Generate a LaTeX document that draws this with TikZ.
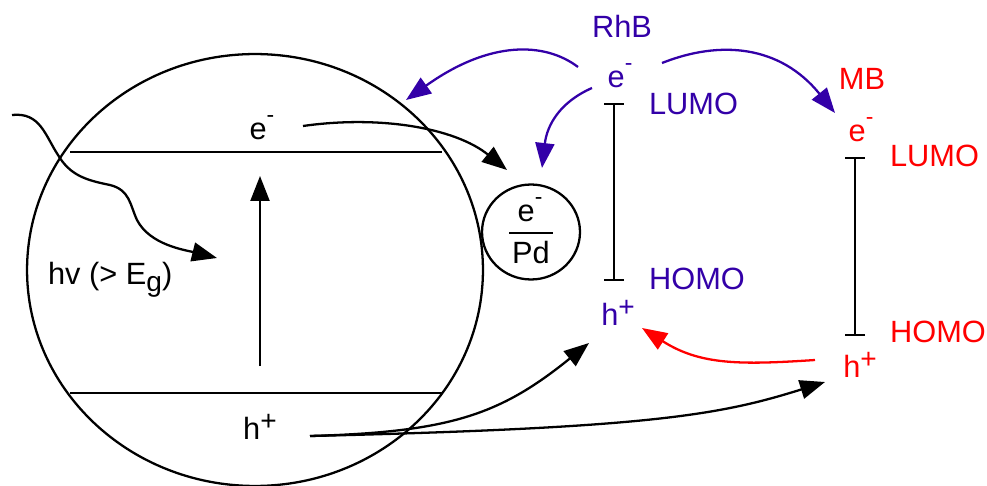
\documentclass[tikz,border=0pt]{standalone}
\usepackage{fontspec}
\setmainfont{Liberation Sans}
\usepackage{xcolor}
\usetikzlibrary{arrows.meta, shapes.geometric}
\definecolor{RhBBlue}{HTML}{3300A8}
\definecolor{MBRed}{HTML}{FF0000}
\newcommand{\elec}{e\raisebox{10pt}{\fontsize{13}{13}\selectfont -}}
\newcommand{\hole}{h\raisebox{5pt}{\fontsize{16}{16}\selectfont +}}

\begin{document}
\begin{tikzpicture}[x=0.02cm, y=-0.02cm, >={Triangle[length=5mm, width=3.8mm]}, line width=1.3pt]
    \tikzstyle{lbl} = [inner sep=0pt, font=\fontsize{17.5}{21}\selectfont]
    \tikzstyle{rhb} = [lbl, text=RhBBlue]
    \tikzstyle{mb} = [lbl, text=MBRed]
    \tikzstyle{gap} = [draw, {Bar[width=4mm]}-{Bar[width=4mm]}]
    \tikzstyle{line} = [draw, ->]

    \useasboundingbox (0,0) rectangle (987,486);

    % particle with its bands, and the Pd dot
    \node [draw, ellipse, inner sep=0pt, minimum width=9.12cm, minimum height=8.64cm] (particle) at (255,270) {};
    \node [draw, ellipse, inner sep=0pt, minimum width=1.96cm, minimum height=1.9cm] (pd) at (531,232) {};
    \coordinate (cbl) at (70,152);
    \coordinate (cbr) at (442,152);
    \coordinate (vbl) at (70,393);
    \coordinate (vbr) at (442,393);
    \draw (cbl) -- (cbr);
    \draw (vbl) -- (vbr);
    \coordinate (pdl) at (509,233);
    \coordinate (pdr) at (553,233);
    \draw (pdl) -- (pdr);

    \node [lbl, anchor=base] (ecb) at (262,140) {\elec};
    \node [lbl, anchor=base] (hvb) at (260,439) {\hole};
    \node [lbl, anchor=base west] (hv) at (47,284) {hv (> E\raisebox{-4pt}{\fontsize{16}{16}\selectfont g})};
    \node [lbl, anchor=base] (epd) at (530,222) {\elec};
    \node [lbl, anchor=base] (pdtxt) at (531,263) {Pd};

    % dyes
    \node [rhb, anchor=base] (rhbname) at (622,38) {RhB};
    \node [rhb, anchor=base] (erh) at (620,88) {\elec};
    \node [rhb, anchor=base west] (lumorh) at (648,115) {LUMO};
    \node [rhb, anchor=base west] (homorh) at (648,290) {HOMO};
    \node [rhb, anchor=base] (hrh) at (618,325) {\hole};
    \coordinate (rhtop) at (614,103);
    \coordinate (rhbot) at (614,281);
    \path [gap] (rhtop) -- (rhbot);

    \node [mb, anchor=base] (mbname) at (862,90) {MB};
    \node [mb, anchor=base] (emb) at (861,142) {\elec};
    \node [mb, anchor=base west] (lumomb) at (889,167) {LUMO};
    \node [mb, anchor=base west] (homomb) at (889,342) {HOMO};
    \node [mb, anchor=base] (hmb) at (860,377) {\hole};
    \coordinate (mbtop) at (855,157);
    \coordinate (mbbot) at (855,336);
    \path [gap] (mbtop) -- (mbbot);

    % light and excitation
    \coordinate (light) at (12,115);
    \coordinate (lightend) at (217,258);
    \path [line] (light) .. controls (40,112) and (45,135) .. (58,155)
        .. controls (70,175) and (85,180) .. (110,185)
        .. controls (130,190) and (130,205) .. (137,220)
        .. controls (150,245) and (185,250) .. (lightend);
    \coordinate (exc0) at (260,366);
    \coordinate (exc1) at (260,176);
    \path [line] (exc0) -- (exc1);

    % electron transfer
    \coordinate (ecbout) at (303,126);
    \coordinate (pdin) at (507,170);
    \path [line] (ecbout) .. controls (380,115) and (455,128) .. (pdin);
    \coordinate (erh1) at (578,67);
    \coordinate (erh2) at (592,88);
    \coordinate (erh3) at (662,63);
    \coordinate (partin) at (406,100);
    \coordinate (pdin2) at (542,168);
    \coordinate (mbin) at (835,113);
    \path [line, RhBBlue] (erh1) .. controls (545,42) and (490,40) .. (partin);
    \path [line, RhBBlue] (erh2) .. controls (560,102) and (547,125) .. (pdin2);
    \path [line, RhBBlue] (erh3) .. controls (720,40) and (780,45) .. (mbin);

    % hole transfer
    \coordinate (hvbout) at (310,436);
    \coordinate (rhin) at (589,343);
    \coordinate (mbhin) at (825,382);
    \path [line] (hvbout) .. controls (450,432) and (500,415) .. (rhin);
    \path [line] (hvbout) .. controls (650,428) and (720,415) .. (mbhin);
    \coordinate (hmbout) at (815,360);
    \coordinate (hrhin) at (642,328);
    \path [line, MBRed] (hmbout) .. controls (740,365) and (700,365) .. (hrhin);
\end{tikzpicture}
\end{document}
